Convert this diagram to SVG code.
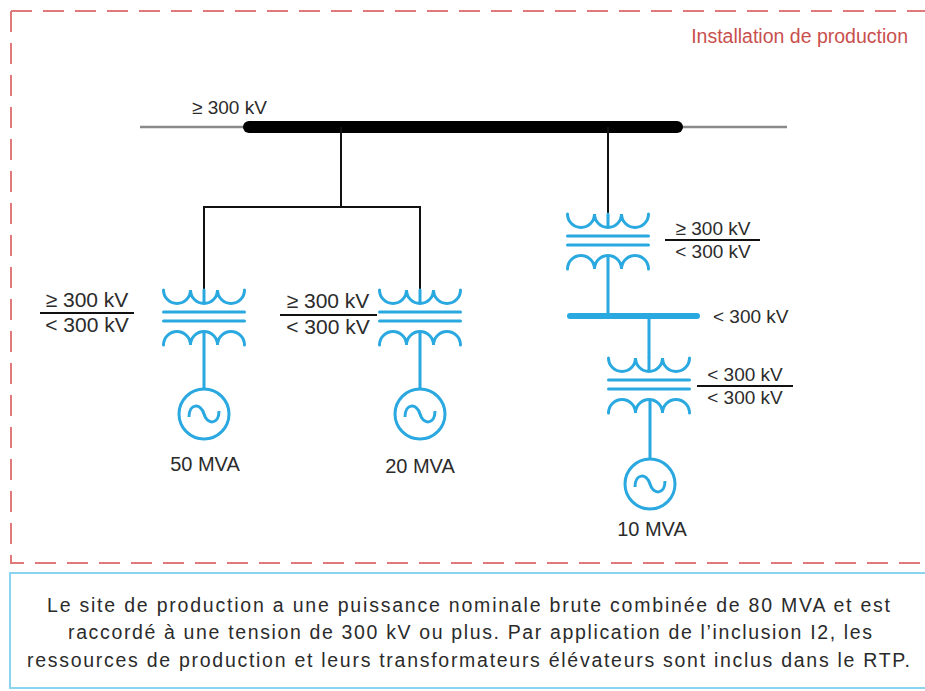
<svg xmlns="http://www.w3.org/2000/svg" width="925" height="691" viewBox="0 0 925 691">
<defs>
<style>
.frame{fill:none;stroke:#e07a7a;stroke-width:2;stroke-dasharray:21 11}
.wire{fill:none;stroke:#111;stroke-width:2}
.bw{fill:none;stroke:#2aa8e0;stroke-width:3}
.coil{fill:none;stroke:#2aa8e0;stroke-width:3;stroke-linecap:round}
.lbl{font-family:"Liberation Sans",Arial,sans-serif;fill:#2b2b2b}
.frac{stroke:#111;stroke-width:2}
</style>
<g id="xfmr">
<path class="coil" d="M-40.5,0 A13.5,13.5 0 0 0 -13.5,0 A13.5,13.5 0 0 0 13.5,0 A13.5,13.5 0 0 0 40.5,0 M0,0 V13.5 M-40.5,22 H40.5 M-40.5,31 H40.5 M-40.5,55 A13.5,13.5 0 0 1 -13.5,55 A13.5,13.5 0 0 1 13.5,55 A13.5,13.5 0 0 1 40.5,55"/>
</g>
<g id="gen">
<circle r="25" class="bw"/>
<path class="bw" d="M-15,3 C-15,-11 -3,-11 0,0 C3,11 15,11 15,-3"/>
</g>
</defs>
<rect width="925" height="691" fill="#fff"/>

<g id="frame">
<path class="frame" d="M11,11 H940"/>
<path class="frame" d="M11,11 V563 H940"/>
<text class="lbl" x="908" y="43" text-anchor="end" font-size="19.5" fill="#c9504e" style="fill:#c9504e">Installation de production</text>
</g>

<g id="connectors">
<line x1="140" y1="127" x2="787" y2="127" stroke="#8a8a8a" stroke-width="2.5"/>
<line x1="249" y1="127" x2="677" y2="127" stroke="#000" stroke-width="12" stroke-linecap="round"/>
<path class="wire" d="M341,127 V207 M203,207 H419 M204,206 V290 M420,206 V290 M608,127 V214"/>
<path class="bw" d="M204,331.5 V389 M420,331.5 V389 M608,255.5 V316 M649,316 V358 M650,399.5 V459"/>
<line x1="570" y1="316" x2="697" y2="316" stroke="#2aa8e0" stroke-width="6" stroke-linecap="round"/>
</g>

<g id="bus-hv-label"><text class="lbl" x="192" y="114" font-size="19">≥ 300 kV</text></g>
<g id="bus-mv-label"><text class="lbl" x="713" y="323" font-size="19">&lt; 300 kV</text></g>

<g id="t1">
<use href="#xfmr" x="204" y="290"/>
<text class="lbl" x="87" y="307" font-size="21" text-anchor="middle">≥ 300 kV</text>
<line class="frac" x1="40" y1="313" x2="134" y2="313"/>
<text class="lbl" x="87" y="332" font-size="21" text-anchor="middle">&lt; 300 kV</text>
</g>
<g id="g1">
<use href="#gen" x="204" y="414"/>
<text class="lbl" x="205" y="471" font-size="20" text-anchor="middle">50 MVA</text>
</g>

<g id="t2">
<use href="#xfmr" x="420" y="290"/>
<text class="lbl" x="328" y="308" font-size="21" text-anchor="middle">≥ 300 kV</text>
<line class="frac" x1="280" y1="315" x2="377" y2="315"/>
<text class="lbl" x="328" y="334" font-size="21" text-anchor="middle">&lt; 300 kV</text>
</g>
<g id="g2">
<use href="#gen" x="420" y="414"/>
<text class="lbl" x="420" y="473" font-size="20" text-anchor="middle">20 MVA</text>
</g>

<g id="t3">
<use href="#xfmr" x="608" y="214"/>
<text class="lbl" x="713" y="235" font-size="19" text-anchor="middle">≥ 300 kV</text>
<line class="frac" x1="665" y1="240" x2="760" y2="240"/>
<text class="lbl" x="713" y="258" font-size="19" text-anchor="middle">&lt; 300 kV</text>
</g>

<g id="t4">
<use href="#xfmr" x="649" y="358"/>
<text class="lbl" x="745" y="381" font-size="19" text-anchor="middle">&lt; 300 kV</text>
<line class="frac" x1="697" y1="386" x2="793" y2="386"/>
<text class="lbl" x="745" y="404" font-size="19" text-anchor="middle">&lt; 300 kV</text>
</g>
<g id="g3">
<use href="#gen" x="650" y="484"/>
<text class="lbl" x="652" y="536" font-size="20" text-anchor="middle">10 MVA</text>
</g>

<g id="note">
<rect x="10" y="573" width="935" height="115" fill="#fff" stroke="#8ad4f0" stroke-width="2"/>
<text class="lbl" x="468.5" y="612" font-size="19.5" text-anchor="middle" textLength="843" lengthAdjust="spacing">Le site de production a une puissance nominale brute combinée de 80 MVA et est</text>
<text class="lbl" x="470" y="639" font-size="19.5" text-anchor="middle" textLength="804" lengthAdjust="spacing">raccordé à une tension de 300 kV ou plus. Par application de l’inclusion I2, les</text>
<text class="lbl" x="468.5" y="667" font-size="19.5" text-anchor="middle" textLength="883" lengthAdjust="spacing">ressources de production et leurs transformateurs élévateurs sont inclus dans le RTP.</text>
</g>
</svg>
